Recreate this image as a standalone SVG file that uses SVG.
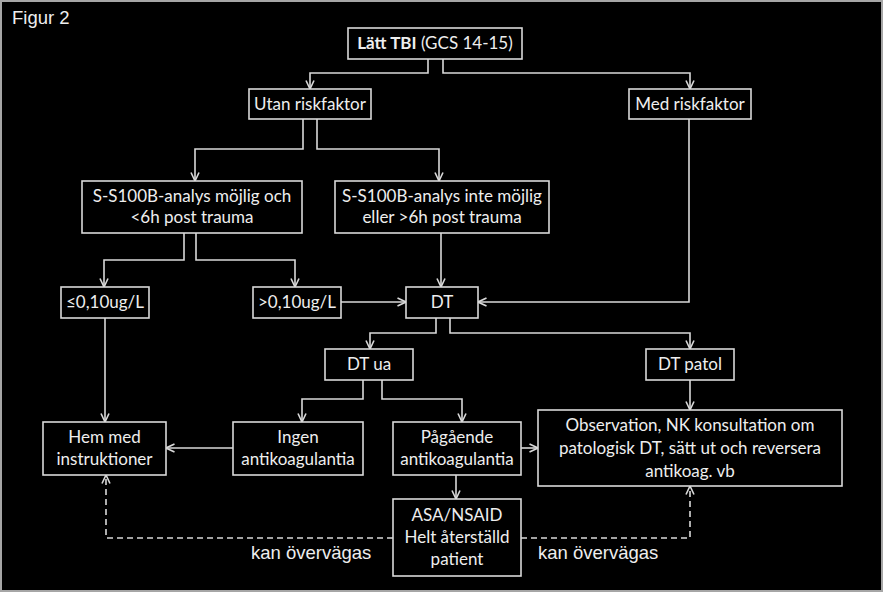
<svg xmlns="http://www.w3.org/2000/svg" width="885" height="594" viewBox="0 0 885 594">
<style>
.box{fill:#000;stroke:#d9d9d9;stroke-width:1.6}
.t{font-family:Lato,"Liberation Sans",sans-serif;font-size:17px;fill:#eeeeee;text-anchor:middle}
.a{font-family:"Liberation Sans",Arial,sans-serif;font-size:18.5px;fill:#eeeeee}
.c{fill:none;stroke:#d9d9d9;stroke-width:1.6}
.d{fill:none;stroke:#d9d9d9;stroke-width:1.6;stroke-dasharray:6 4}
</style>
<defs>
<marker id="arr" viewBox="0 0 10 10" refX="9.5" refY="5" markerWidth="10" markerHeight="10" markerUnits="userSpaceOnUse" orient="auto">
<path d="M1,1 L9.5,5 L1,9" fill="none" stroke="#d9d9d9" stroke-width="1.6"/>
</marker>
</defs>
<rect x="0" y="0" width="885" height="594" fill="#fff"/>
<rect x="1" y="1" width="881" height="590" fill="#000" stroke="#a6a6a6" stroke-width="2"/>
<text class="a" x="12" y="24">Figur 2</text>

<g id="connectors">
<path class="c" d="M428,59 V73 H310 V89" marker-end="url(#arr)"/>
<path class="c" d="M443,59 V73 H690 V89" marker-end="url(#arr)"/>
<path class="c" d="M303,119 V149 H195 V181" marker-end="url(#arr)"/>
<path class="c" d="M317,119 V149 H439 V181" marker-end="url(#arr)"/>
<path class="c" d="M184,233 V260 H104 V287" marker-end="url(#arr)"/>
<path class="c" d="M196,233 V260 H295 V287" marker-end="url(#arr)"/>
<path class="c" d="M441,233 V287" marker-end="url(#arr)"/>
<path class="c" d="M689,119 V302 H478" marker-end="url(#arr)"/>
<path class="c" d="M341,302 H406" marker-end="url(#arr)"/>
<path class="c" d="M105,318 V422" marker-end="url(#arr)"/>
<path class="c" d="M436,318 V333 H370 V349" marker-end="url(#arr)"/>
<path class="c" d="M450,318 V333 H690 V349" marker-end="url(#arr)"/>
<path class="c" d="M363,380 V399 H302 V422" marker-end="url(#arr)"/>
<path class="c" d="M382,380 V399 H462 V422" marker-end="url(#arr)"/>
<path class="c" d="M690,380 V410" marker-end="url(#arr)"/>
<path class="c" d="M233,448 H166" marker-end="url(#arr)"/>
<path class="c" d="M521,448 H538" marker-end="url(#arr)"/>
<path class="c" d="M456,475 V499" marker-end="url(#arr)"/>
<path class="d" d="M393,538 H106 V475" marker-end="url(#arr)"/>
<path class="d" d="M521,538 H690 V486" marker-end="url(#arr)"/>
</g>

<g id="latt-tbi">
<rect class="box" x="348" y="28" width="174" height="31"/>
<text class="t" x="435" y="49"><tspan font-weight="bold">Lätt TBI</tspan> (GCS 14-15)</text>
</g>
<g id="utan">
<rect class="box" x="249" y="89" width="122" height="30"/>
<text class="t" x="310" y="110">Utan riskfaktor</text>
</g>
<g id="med">
<rect class="box" x="629" y="89" width="122" height="30"/>
<text class="t" x="690" y="110">Med riskfaktor</text>
</g>
<g id="s100b-mojlig">
<rect class="box" x="82" y="181" width="220" height="52"/>
<text class="t" x="192" y="202">S-S100B-analys möjlig och</text>
<text class="t" x="192" y="223">&lt;6h post trauma</text>
</g>
<g id="s100b-inte">
<rect class="box" x="335" y="181" width="214" height="52"/>
<text class="t" x="442" y="202">S-S100B-analys inte möjlig</text>
<text class="t" x="442" y="223">eller &gt;6h post trauma</text>
</g>
<g id="low">
<rect class="box" x="61" y="287" width="88" height="31"/>
<text class="t" x="105" y="308">≤0,10ug/L</text>
</g>
<g id="high">
<rect class="box" x="253" y="287" width="88" height="31"/>
<text class="t" x="297" y="308">&gt;0,10ug/L</text>
</g>
<g id="dt">
<rect class="box" x="406" y="287" width="72" height="31"/>
<text class="t" x="442" y="308">DT</text>
</g>
<g id="dt-ua">
<rect class="box" x="325" y="349" width="88" height="31"/>
<text class="t" x="369" y="370">DT ua</text>
</g>
<g id="dt-patol">
<rect class="box" x="646" y="349" width="88" height="31"/>
<text class="t" x="690" y="370">DT patol</text>
</g>
<g id="hem">
<rect class="box" x="43" y="422" width="123" height="53"/>
<text class="t" x="104.5" y="443">Hem med</text>
<text class="t" x="104.5" y="465">instruktioner</text>
</g>
<g id="ingen">
<rect class="box" x="233" y="422" width="130" height="53"/>
<text class="t" x="298" y="443">Ingen</text>
<text class="t" x="298" y="465">antikoagulantia</text>
</g>
<g id="pagaende">
<rect class="box" x="393" y="422" width="128" height="53"/>
<text class="t" x="457" y="443">Pågående</text>
<text class="t" x="457" y="465">antikoagulantia</text>
</g>
<g id="observation">
<rect class="box" x="538" y="410" width="304" height="76"/>
<text class="t" x="690" y="431">Observation, NK konsultation om</text>
<text class="t" x="690" y="454">patologisk DT, sätt ut och reversera</text>
<text class="t" x="690" y="477">antikoag. vb</text>
</g>
<g id="asa">
<rect class="box" x="393" y="499" width="128" height="77"/>
<text class="t" x="457" y="521">ASA/NSAID</text>
<text class="t" x="457" y="543">Helt återställd</text>
<text class="t" x="457" y="565">patient</text>
</g>
<text class="a" x="251" y="559">kan övervägas</text>
<text class="a" x="538" y="559">kan övervägas</text>
</svg>
